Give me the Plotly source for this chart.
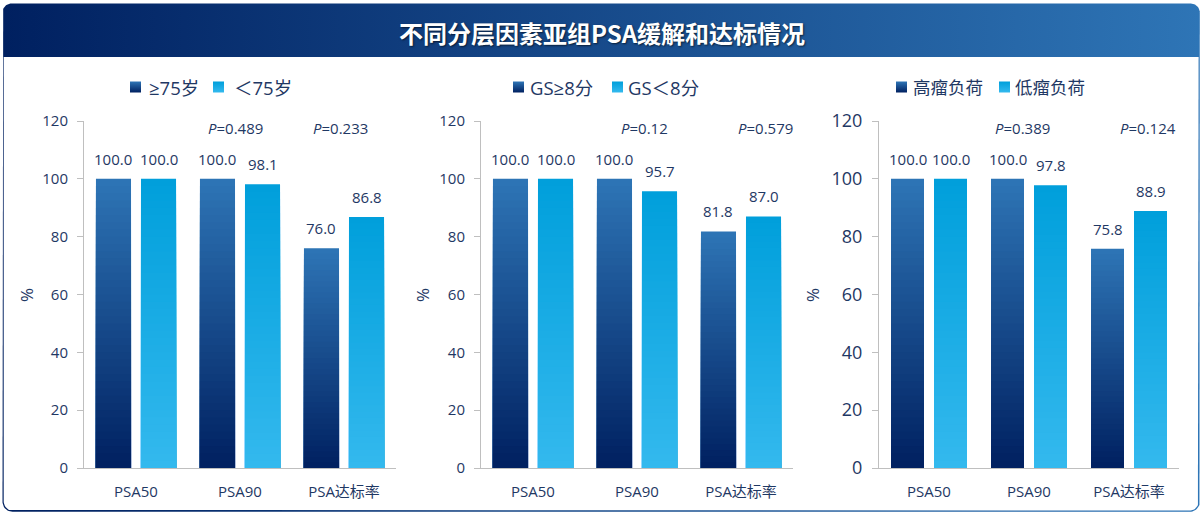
import math
import plotly.graph_objects as go

# ---------------- data ----------------
categories = ["PSA50", "PSA90", "PSA达标率"]

age_labels = ["≥75岁", "＜75岁"]
age_ge75 = [100.0, 100.0, 76.0]
age_lt75 = [100.0, 98.1, 86.8]
age_p = ["0.489", "0.233"]

gs_labels = ["GS≥8分", "GS＜8分"]
gs_ge8 = [100.0, 100.0, 81.8]
gs_lt8 = [100.0, 95.7, 87.0]
gs_p = ["0.12", "0.579"]

burden_labels = ["高瘤负荷", "低瘤负荷"]
burden_high = [100.0, 100.0, 75.8]
burden_low = [100.0, 97.8, 88.9]
burden_p = ["0.389", "0.124"]

title_text = "不同分层因素亚组PSA缓解和达标情况"
y_title = "%"

# ---------------- style ----------------
W, H = 1204, 517
TXT = "#1F3864"
AXC = "#BFBFBF"
FONT = "Open Sans, Noto Sans CJK SC, sans-serif"
CJK = "Noto Sans CJK SC, sans-serif"
DARK = ("#002060", "#2E75B6")   # bottom, top
LIGHT = ("#34B9EE", "#009FDB")  # bottom, top
NSEG = 40

def hex2rgb(h):
    h = h.lstrip("#")
    return [int(h[i:i + 2], 16) for i in (0, 2, 4)]

def lerp(c0, c1, t):
    a, b = hex2rgb(c0), hex2rgb(c1)
    return "rgb(%d,%d,%d)" % tuple(round(a[i] + (b[i] - a[i]) * t) for i in range(3))

def rrect(x0, y0, x1, y1, rt, rb, n=12):
    xs, ys = [], []
    def arc(cx, cy, r, a0, a1):
        for i in range(n + 1):
            a = math.radians(a0 + (a1 - a0) * i / n)
            xs.append(cx + r * math.cos(a)); ys.append(cy + r * math.sin(a))
    def pt(x, y):
        xs.append(x); ys.append(y)
    arc(x1 - rt, y0 + rt, rt, -90, 0) if rt else pt(x1, y0)
    arc(x1 - rb, y1 - rb, rb, 0, 90) if rb else pt(x1, y1)
    arc(x0 + rb, y1 - rb, rb, 90, 180) if rb else pt(x0, y1)
    arc(x0 + rt, y0 + rt, rt, 180, 270) if rt else pt(x0, y0)
    xs.append(xs[0]); ys.append(ys[0])
    return xs, ys

fig = go.Figure()

# ---------------- decoration (pixel axis xy) ----------------
ox, oy = rrect(2.5, 3.5, 1199.8, 511.8, 9, 10)
fig.add_trace(go.Scatter(x=ox, y=oy, mode="lines", line=dict(width=0), fill="toself",
                         fillgradient=dict(type="horizontal",
                                           colorscale=[[0, "#002060"], [1, "#2E75B6"]]),
                         hoverinfo="skip", showlegend=False, xaxis="x", yaxis="y"))
ix, iy = rrect(3.7, 57.0, 1198.6, 510.6, 0, 9)
fig.add_trace(go.Scatter(x=ix, y=iy, mode="lines", line=dict(width=0), fill="toself",
                         fillcolor="white", hoverinfo="skip", showlegend=False,
                         xaxis="x", yaxis="y"))

panels = [
    dict(labels=age_labels, a=age_ge75, b=age_lt75, p=age_p,
         x0=84, x1=396, off=(-0.385, 0.048), w=0.337, tfs=15, lfs=18.5,
         leg=[(130, 147), (213, 232)], pctx=26, px=[0.96, 1.97], yts=6),
    dict(labels=gs_labels, a=gs_ge8, b=gs_lt8, p=gs_p,
         x0=481, x1=793, off=(-0.385, 0.048), w=0.337, tfs=15, lfs=18.5,
         leg=[(513, 528), (612, 626)], pctx=422, px=[1.07, 2.24], yts=6),
    dict(labels=burden_labels, a=burden_high, b=burden_low, p=burden_p,
         x0=879, x1=1179, off=(-0.38, 0.05), w=0.33, tfs=18, lfs=17.5,
         leg=[(896, 911), (999, 1013)], pctx=812, px=[0.93, 2.185], yts=6),
]

Y0PX, Y120PX = 468.0, 121.0
annotations = []
layout_axes = {}

for pi, pn in enumerate(panels):
    ax = pi + 2
    xa, ya = "x%d" % ax, "y%d" % ax
    for series, cols, off in ((pn["a"], DARK, pn["off"][0]), (pn["b"], LIGHT, pn["off"][1])):
        # gradient: tallest (top colour) first, progressively shorter & darker on top
        for k in range(NSEG):
            frac = (NSEG - k) / NSEG
            fig.add_trace(go.Bar(
                x=categories, y=[v * frac for v in series],
                offset=off, width=pn["w"],
                marker=dict(color=lerp(cols[0], cols[1], frac - 0.5 / NSEG), line=dict(width=0)),
                hoverinfo="skip", showlegend=False, xaxis=xa, yaxis=ya))
        for i, v in enumerate(series):
            annotations.append(dict(x=i + off + pn["w"] / 2, y=v, xref=xa, yref=ya,
                                    text="%.1f" % v, showarrow=False, yanchor="bottom",
                                    yshift=8, font=dict(family=FONT, size=15, color=TXT)))
    for j, pv in enumerate(pn["p"]):
        annotations.append(dict(x=pn["px"][j], y=117.6, xref=xa, yref=ya,
                                text="<i>P</i>=" + pv, showarrow=False,
                                font=dict(family=FONT, size=15, color=TXT)))
    for (icx, txx), lab, cols in zip(pn["leg"], pn["labels"], (DARK, LIGHT)):
        lx, ly = rrect(icx, 81.5, icx + 11, 92.5, 0, 0)
        fig.add_trace(go.Scatter(x=lx, y=ly, mode="lines", line=dict(width=0), fill="toself",
                                 fillgradient=dict(type="vertical", start=81.5, stop=92.5,
                                                   colorscale=[[0, cols[1]], [1, cols[0]]]),
                                 hoverinfo="skip", showlegend=False, xaxis="x", yaxis="y"))
        annotations.append(dict(x=txx, y=87, xref="x", yref="y", text=lab, showarrow=False,
                                xanchor="left", yanchor="middle",
                                font=dict(family=FONT, size=pn["lfs"], color=TXT)))
    annotations.append(dict(x=pn["pctx"], y=295, xref="x", yref="y", text=y_title,
                            showarrow=False, textangle=-90,
                            font=dict(family=FONT, size=17, color=TXT)))
    layout_axes["xaxis%d" % ax] = dict(
        domain=[pn["x0"] / W, pn["x1"] / W], anchor=ya, type="category",
        range=[-0.5, 2.5], showline=True, linecolor=AXC, linewidth=1, ticks="",
        showgrid=False, zeroline=False, ticklabelstandoff=10, fixedrange=True,
        automargin=False, tickfont=dict(family=FONT, size=15, color=TXT))
    layout_axes["yaxis%d" % ax] = dict(
        domain=[(H - Y0PX) / H, (H - Y120PX) / H], anchor=xa, range=[0, 120], dtick=20,
        showline=True, linecolor=AXC, linewidth=1, ticks="outside", ticklen=6,
        tickcolor=AXC, showgrid=False, zeroline=False, ticklabelstandoff=pn["yts"],
        automargin=False, fixedrange=True,
        tickfont=dict(family=FONT, size=pn["tfs"], color=TXT))

annotations.append(dict(x=602, y=32, xref="x", yref="y", text="<b>%s</b>" % title_text,
                        showarrow=False,
                        font=dict(family=CJK, size=24, color="white",
                                  shadow="1px 1px 2px rgba(0,0,0,0.6)")))

fig.update_layout(
    template="none",
    width=W, height=H, margin=dict(l=0, r=0, t=0, b=0, pad=0, autoexpand=False),
    paper_bgcolor="white", plot_bgcolor="rgba(0,0,0,0)",
    barmode="overlay", showlegend=False,
    xaxis=dict(domain=[0, 1], range=[0, W], visible=False, fixedrange=True, automargin=False),
    yaxis=dict(domain=[0, 1], range=[H, 0], visible=False, fixedrange=True, automargin=False),
    annotations=annotations, **layout_axes)

fig.write_html("out.html", config=dict(displayModeBar=False),
               post_script="document.body.style.margin='0';document.body.style.padding='0';")
